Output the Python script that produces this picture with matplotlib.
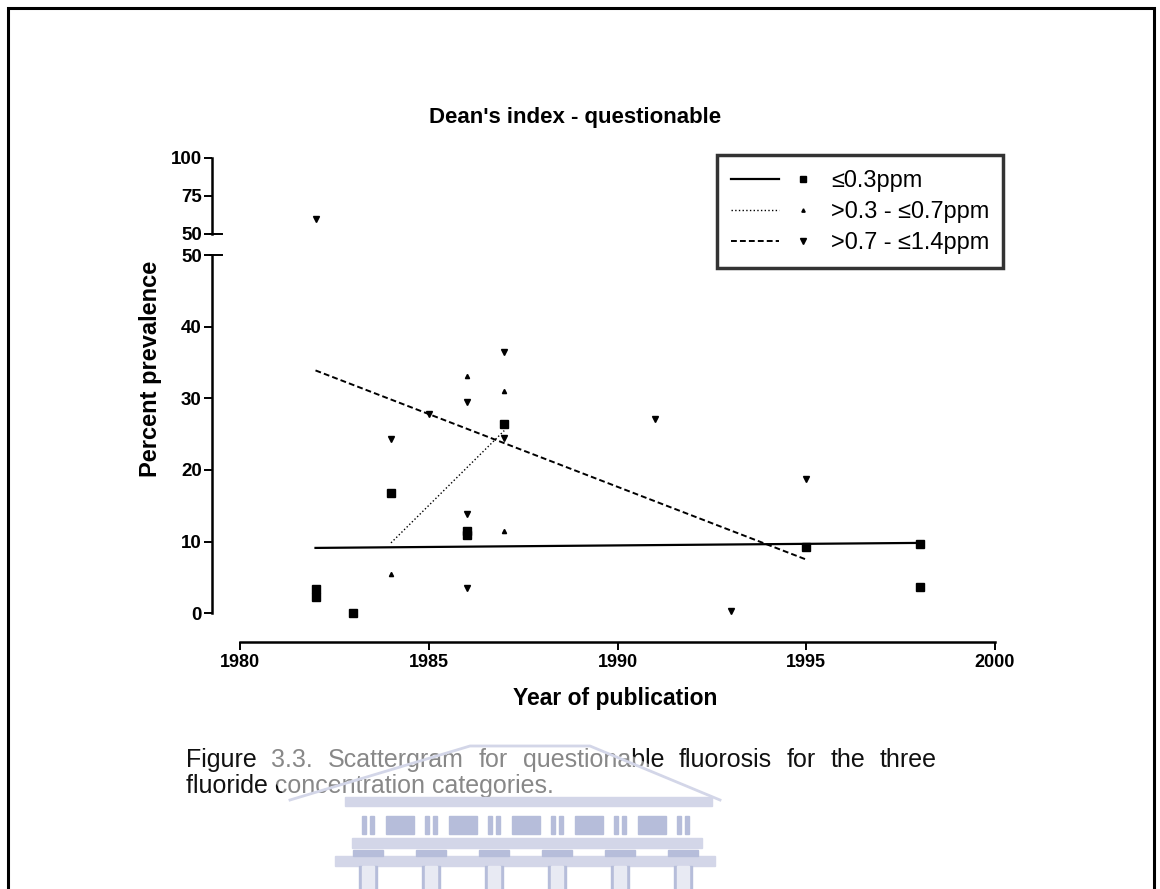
import numpy as np
import matplotlib
matplotlib.use("Agg")
import matplotlib.pyplot as plt
import matplotlib.transforms as mtransforms
from matplotlib.lines import Line2D
from matplotlib.patches import Rectangle, Polygon
from matplotlib.legend_handler import HandlerTuple

plt.rcParams['font.family'] = ['Liberation Sans', 'DejaVu Sans']

# Prevalence of questionable fluorosis (%) by year of publication
years_low = [1982, 1982, 1983, 1984, 1986, 1986, 1987, 1995, 1998, 1998]
prev_low = [3.3, 2.2, 0.0, 16.8, 11.5, 10.9, 26.5, 9.3, 9.6, 3.6]

years_mid = [1984, 1986, 1987, 1987]
prev_mid = [5.5, 33.2, 31.0, 11.4]

years_high = [1982, 1984, 1985, 1986, 1986, 1986, 1986, 1987, 1987, 1991, 1993, 1995]
prev_high = [60.0, 24.3, 27.9, 29.5, 13.8, 10.8, 3.5, 36.5, 24.5, 27.1, 0.3, 18.7]

labels = ["\u22640.3ppm", ">0.3 - \u22640.7ppm", ">0.7 - \u22641.4ppm"]
xticks = [1980, 1985, 1990, 1995, 2000]
yticks_lo = [0, 10, 20, 30, 40, 50]
yticks_hi = [50, 75, 100]

W, H = 1160, 889
fig = plt.figure(figsize=(W / 100, H / 100), dpi=100)

# background layer in pixel coordinates: page frame
bg = fig.add_axes([0, 0, 1, 1], zorder=-5)
bg.set_xlim(0, W)
bg.set_ylim(H, 0)
bg.axis('off')
bg.plot([8, 8, 1154, 1154], [H, 8, 8, H], color='black', lw=2.2,
        solid_joinstyle='miter')

# broken y axis: upper part 50-100, lower part 0-50
ax_lo = fig.add_axes([240 / W, (H - 613) / H, 755 / W, (613 - 255.5) / H])
ax_hi = fig.add_axes([240 / W, (H - 234) / H, 755 / W, (234 - 158) / H])
ranges = {ax_lo: (0, 50), ax_hi: (50, 100)}

series = [
    (years_low, prev_low, 's', 5.2, '-', 1.6, None),
    (years_mid, prev_mid, '^', 3.0, ':', 1.0, None),
    (years_high, prev_high, 'v', 4.6, '--', 1.4, (3, 1.6)),
]

handles = []
for (xs, ys, mk, ms, ls, lw, dash), lab in zip(series, labels):
    xs = np.array(xs, dtype=float)
    ys = np.array(ys, dtype=float)
    # linear regression line over the span of each group
    slope, icpt = np.polyfit(xs, ys, 1)
    xr = np.array([xs.min(), xs.max()])
    line, = ax_lo.plot(xr, icpt + slope * xr, color='black', ls=ls, lw=lw)
    if dash:
        line.set_dashes(dash)
    for ax, (lo, hi) in ranges.items():
        keep = (ys >= lo) & (ys <= hi)
        ax.plot(xs[keep], ys[keep], ls='none', marker=mk, ms=ms,
                color='black', clip_on=False, zorder=4)
    hl = Line2D([], [], color='black', ls=ls, lw=lw)
    if dash:
        hl.set_dashes(dash)
    hm = Line2D([], [], ls='none', marker=mk, ms=ms * 0.8, color='black')
    handles.append((hl, hm))

for ax, (lo, hi) in ranges.items():
    ax.set_ylim(lo, hi)
    ax.set_xlim(1980, 2000)
    ax.patch.set_visible(False)
    for s in ('top', 'right'):
        ax.spines[s].set_visible(False)
    ax.spines['left'].set_position(('outward', 20))
    ax.spines['left'].set_linewidth(1.8)
    ax.tick_params(axis='y', direction='out', length=5.5, width=1.4,
                   labelsize=13.5, pad=2)

ax_lo.set_yticks(yticks_lo)
ax_hi.set_yticks(yticks_hi)
ax_hi.spines['bottom'].set_visible(False)
ax_hi.set_xticks([])

ax_lo.spines['bottom'].set_position(('outward', 21))
ax_lo.spines['bottom'].set_linewidth(1.8)
ax_lo.set_xticks(xticks)
ax_lo.tick_params(axis='x', direction='out', length=5.5, width=1.4,
                  labelsize=13, pad=3)
for ax in (ax_lo, ax_hi):
    for t in ax.get_xticklabels() + ax.get_yticklabels():
        t.set_fontweight('bold')

# break marks at the two 50 ticks
off = -28 / 755
for ax in (ax_lo, ax_hi):
    tr = mtransforms.blended_transform_factory(ax.transAxes, ax.transData)
    ax.plot([off - 0.002, off + 10 / 755], [50, 50], color='black', lw=1.4,
            transform=tr, clip_on=False)

fig.text(575 / W, (H - 117) / H, "Dean's index - questionable", ha='center',
         va='center', fontsize=16, fontweight='bold')
fig.text(150 / W, (H - 369) / H, "Percent prevalence", rotation=90, ha='center',
         va='center', fontsize=17, fontweight='bold')
fig.text(615 / W, (H - 698) / H, "Year of publication", ha='center',
         va='center', fontsize=16.5, fontweight='bold')

leg = fig.legend(handles, labels, loc='upper left',
                 bbox_to_anchor=(717 / W, (H - 155) / H),
                 handler_map={tuple: HandlerTuple(ndivide=2, pad=0)},
                 handlelength=4.1, handletextpad=0.15, fontsize=16.9,
                 frameon=True, fancybox=False, borderaxespad=0,
                 borderpad=0.6, labelspacing=0.34)
leg.get_frame().set_edgecolor('black')
leg.get_frame().set_linewidth(2.5)

# justified caption: first line stretched to the full width
cap1 = "Figure 3.3. Scattergram for questionable fluorosis for the three"
cap2 = "fluoride concentration categories."
cap_size = 18
x0, x1 = 186, 937
renderer = fig.canvas.get_renderer()
words = cap1.split()
texts = [fig.text(0, (H - 760) / H, w, ha='left', va='center',
                  fontsize=cap_size, color='#111111') for w in words]
widths = [t.get_window_extent(renderer).width for t in texts]
gap = (x1 - x0 - sum(widths)) / (len(words) - 1)
xpos = x0
for t, w in zip(texts, widths):
    t.set_x(xpos / W)
    xpos += w + gap
fig.text(x0 / W, (H - 786) / H, cap2, ha='left', va='center',
         fontsize=cap_size, color='#111111')

# faint building crest over the caption
wm = fig.add_axes([0, 0, 1, 1], zorder=10)
wm.set_xlim(0, W)
wm.set_ylim(H, 0)
wm.axis('off')
wm.patch.set_visible(False)
light = '#d3d6e8'
mid = '#b6bdda'
wm.add_patch(Polygon([(248, 746), (612, 746), (722, 800), (288, 800)],
                     closed=True, facecolor='white', alpha=0.5,
                     edgecolor='none'))
wm.plot([290, 470, 590, 720], [800, 746, 746, 800], color=light, lw=2)
wm.add_patch(Rectangle((345, 797), 367, 9, color=light))
cols = [368, 431, 494, 557, 620, 683]
for c in cols:
    wm.add_patch(Rectangle((c - 6, 816), 4, 18, color=mid))
    wm.add_patch(Rectangle((c + 2, 816), 4, 18, color=mid))
for a, b in zip(cols[:-1], cols[1:]):
    m = (a + b) / 2
    wm.add_patch(Rectangle((m - 14, 816), 28, 18, color=mid))
wm.add_patch(Rectangle((352, 838), 350, 10, color=light))
wm.add_patch(Rectangle((335, 856), 380, 10, color=light))
for c in cols:
    wm.add_patch(Rectangle((c - 15, 850), 30, 6, color=mid))
    wm.add_patch(Rectangle((c - 9, 866), 3, 23, color=mid))
    wm.add_patch(Rectangle((c + 6, 866), 3, 23, color=mid))
    wm.add_patch(Rectangle((c - 6, 866), 12, 23, color='#e8eaf3'))

fig.savefig("out.png", dpi=100)
